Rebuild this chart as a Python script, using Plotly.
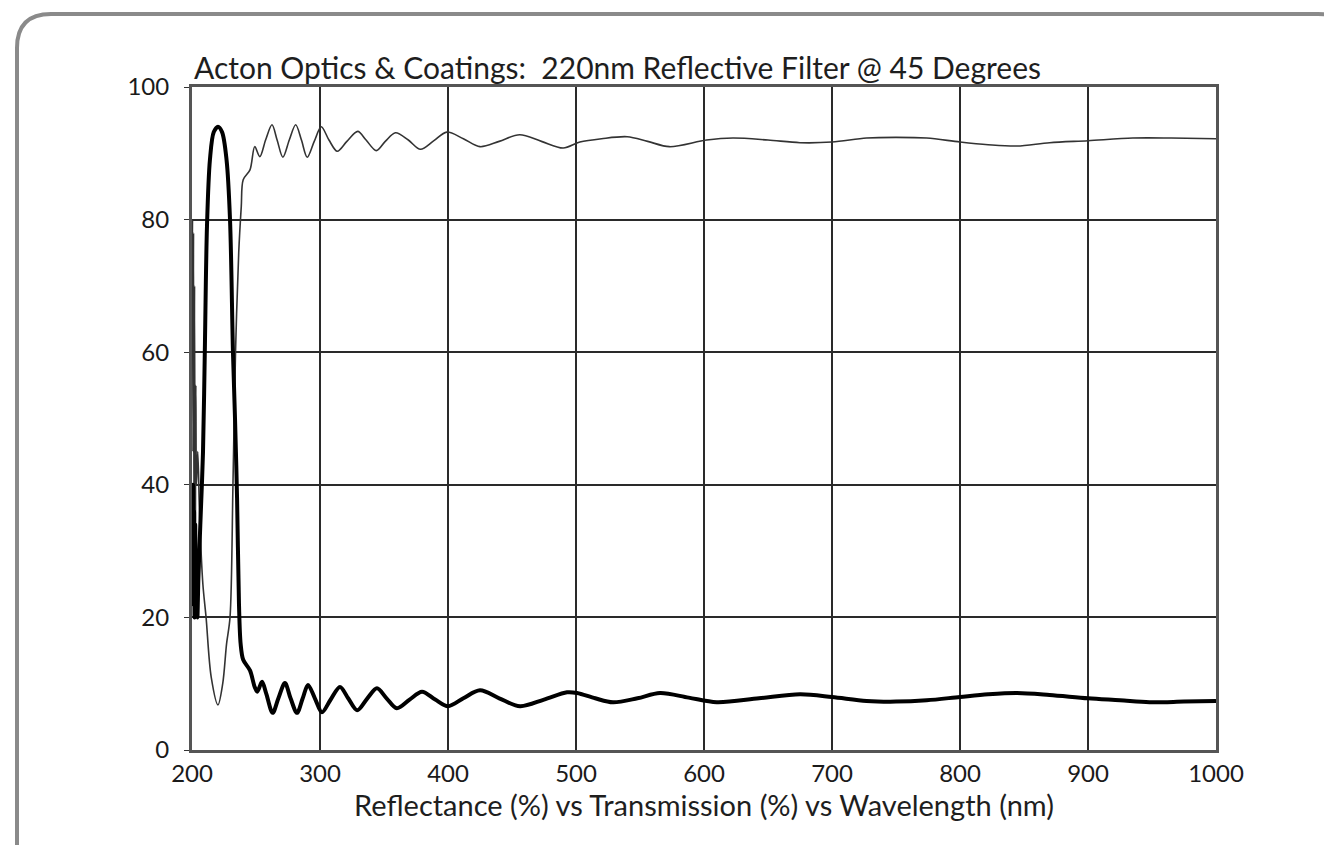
import plotly.graph_objects as go

# Reflectance (thick curve): wavelength (nm) and percent
refl_nm = [200, 200.4, 200.8, 201.2, 201.6, 202, 202.5, 203, 203.5, 204.2, 205, 206.5, 208.6, 210,
           211.7, 214, 217, 220.3, 223.5, 227, 229.7, 232, 233.6, 235.2, 236.7, 238, 240,
           245.3, 249, 251, 254.7, 258, 263, 267.5, 272.6, 277, 282, 286.5, 290.6, 296, 301.5,
           308, 315.6, 322, 329, 337, 344.5, 352, 360, 370, 379.7, 390, 400, 412, 425, 440,
           456.3, 475, 493, 500.8, 515, 528.9, 548, 565.6, 588, 610, 643, 675, 700, 727, 750,
           774, 800, 822, 844.5, 870, 900, 925, 948, 975, 1000]
refl_val = [38, 22, 40, 24, 36, 20, 34, 21, 30, 20, 26, 34, 45, 60,
            79, 89, 93.2, 94, 93.2, 89, 80, 60, 50, 38, 22, 16, 13.6,
            12, 9.5, 8.8, 10.3, 8.5, 5.6, 7.8, 10.1, 7.8, 5.6, 7.8, 9.8, 7.8, 5.7,
            7.5, 9.5, 7.8, 6.0, 7.8, 9.3, 7.8, 6.3, 7.6, 8.8, 7.6, 6.6, 7.8, 9.0, 7.8,
            6.6, 7.6, 8.7, 8.6, 7.8, 7.2, 7.8, 8.6, 7.9, 7.2, 7.8, 8.4, 8.0, 7.4, 7.3,
            7.5, 8.0, 8.4, 8.6, 8.3, 7.8, 7.5, 7.2, 7.3, 7.4]

# Transmission (thin curve): wavelength (nm) and percent
trans_nm = [200, 200.4, 200.8, 201.2, 201.6, 202, 202.5, 203, 203.5, 204.5, 206, 208.5, 211,
            215, 220.3, 224, 227, 229.7, 232, 234, 236.5, 238.5, 240, 245.3, 249, 253,
            257.5, 262.5, 266.5, 271, 276, 281, 285.5, 290, 295.5, 301, 307, 313.5, 321,
            329.5, 336, 344, 351, 359, 369, 378.5, 389, 399, 412, 425, 440, 456, 473, 490,
            503, 520, 540, 556, 573, 602, 622.6, 650, 675, 700, 727, 750, 774, 800, 822,
            844.5, 870, 900, 935, 965, 1000]
trans_val = [62, 80, 45, 78, 30, 70, 22, 55, 40, 45, 35, 25, 20,
             11, 6.8, 10, 16, 20, 40, 60, 75, 82, 86, 87.5, 91, 89.5,
             92, 94.3, 92, 89.4, 92, 94.3, 92, 89.4, 91.8, 94, 92, 90.3, 91.8,
             93.3, 92, 90.4, 91.8, 93.1, 92, 90.6, 91.9, 93.2, 92.2, 91, 91.8, 92.8, 91.8, 90.8,
             91.7, 92.2, 92.5, 91.8, 91, 92, 92.3, 92, 91.6, 91.7, 92.3, 92.4, 92.3, 91.7, 91.3,
             91.1, 91.6, 91.9, 92.3, 92.3, 92.2]

x_ticks = [200, 300, 400, 500, 600, 700, 800, 900, 1000]
y_ticks = [0, 20, 40, 60, 80, 100]

title_text = "Acton Optics &amp; Coatings:  220nm Reflective Filter @ 45 Degrees"
x_title = "Reflectance (%) vs Transmission (%) vs Wavelength (nm)"

W, H = 1332, 845
OFF = 8  # page body margin
L, T = 192 - OFF, 87 - OFF
pw, ph = 1024, 663
R, B = W - L - pw, H - T - ph

def px_x(p):  # screen px -> paper x
    return (p - OFF - L) / pw

def px_y(p):  # screen px -> paper y
    return (T + ph - (p - OFF)) / ph

fig = go.Figure()
fig.add_trace(go.Scatter(x=trans_nm, y=trans_val, mode="lines",
                         line=dict(color="#333333", width=1.6, shape="spline", smoothing=0.9),
                         showlegend=False, hoverinfo="skip"))
fig.add_trace(go.Scatter(x=refl_nm, y=refl_val, mode="lines",
                         line=dict(color="#000000", width=4, shape="spline", smoothing=0.9),
                         showlegend=False, hoverinfo="skip"))

# rounded outer frame (screen px)
x0, y0, x1, y1, r = 17, 14, 1352, 880, 34
path = (f"M {px_x(x0+r)},{px_y(y0)} L {px_x(x1-r)},{px_y(y0)} "
        f"Q {px_x(x1)},{px_y(y0)} {px_x(x1)},{px_y(y0+r)} "
        f"L {px_x(x1)},{px_y(y1-r)} Q {px_x(x1)},{px_y(y1)} {px_x(x1-r)},{px_y(y1)} "
        f"L {px_x(x0+r)},{px_y(y1)} Q {px_x(x0)},{px_y(y1)} {px_x(x0)},{px_y(y1-r)} "
        f"L {px_x(x0)},{px_y(y0+r)} Q {px_x(x0)},{px_y(y0)} {px_x(x0+r)},{px_y(y0)} Z")
fig.add_shape(type="path", path=path, xref="paper", yref="paper",
              line=dict(color="#8a8a8a", width=4), fillcolor="rgba(0,0,0,0)", layer="below")

fig.update_layout(
    width=W, height=H,
    margin=dict(l=L, r=R, t=T, b=B),
    paper_bgcolor="white", plot_bgcolor="white",
    font=dict(family="Lato, Open Sans, sans-serif", color="#1a1a1a"),
    title=dict(text=title_text, x=px_x(194), xanchor="left", xref="paper",
               y=1 - (68 - OFF) / H, yanchor="middle", font=dict(size=30, color="#1e1e1e")),
    xaxis=dict(range=[200, 1000], tickvals=x_ticks, ticktext=[str(v) for v in x_ticks],
               showgrid=True, gridcolor="#2a2a2a", gridwidth=1.5,
               showline=True, linecolor="#555555", linewidth=3, mirror=True,
               ticks="", tickfont=dict(size=24, color="#1a1a1a"),
               title=dict(text=x_title, font=dict(size=29, color="#1e1e1e"), standoff=4),
               zeroline=False),
    yaxis=dict(range=[0, 100], tickvals=y_ticks, ticktext=[str(v) for v in y_ticks],
               showgrid=True, gridcolor="#2a2a2a", gridwidth=1.5,
               showline=True, linecolor="#555555", linewidth=3, mirror=True,
               ticks="outside", ticklen=5, tickcolor="#333333", ticklabelstandoff=10,
               tickfont=dict(size=24, color="#1a1a1a"), zeroline=False),
)

fig.write_html("out.html")
